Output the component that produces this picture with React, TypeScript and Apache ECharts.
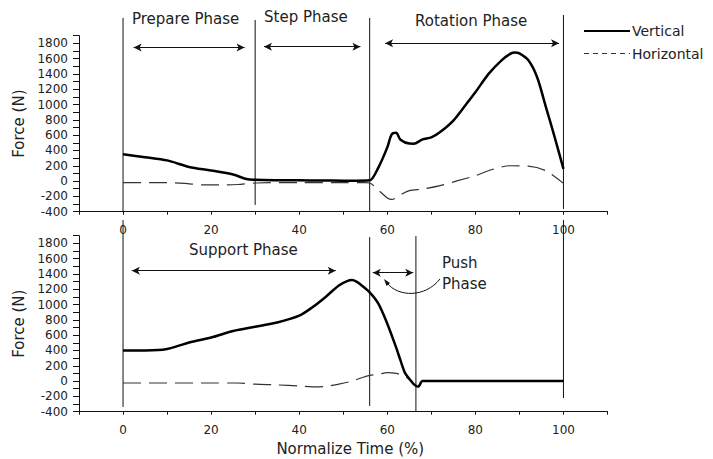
import React, { useEffect, useRef } from "react";
import * as echarts from "echarts";

// ---- data ----
const topVerticalX = [0, 5, 10, 15, 20, 25, 28, 30, 35, 40, 45, 50, 53, 56, 58, 60, 61, 62, 63, 65, 66, 68, 70, 72, 75, 78, 80, 83, 86, 88, 89, 90, 92, 94, 96, 98, 100];
const topVerticalY = [350, 312, 270, 185, 138, 85, 28, 18, 12, 10, 8, 5, 5, 10, 180, 440, 610, 630, 540, 490, 488, 545, 570, 640, 790, 1010, 1160, 1400, 1580, 1665, 1680, 1668, 1580, 1360, 970, 575, 160];

const topHorizontalX = [0, 10, 14, 18, 22, 26, 30, 40, 50, 55, 56, 58, 60, 61, 63, 65, 68, 72, 76, 80, 84, 88, 92, 96, 100];
const topHorizontalY = [-20, -20, -30, -50, -50, -45, -25, -20, -20, -20, -25, -120, -220, -240, -180, -125, -105, -60, 5, 70, 155, 200, 195, 135, -30];

const bottomVerticalX = [0, 5, 8, 10, 12, 15, 20, 25, 30, 35, 40, 43, 46, 49, 51, 52, 53, 54, 56, 58, 60, 62, 63, 64, 65, 66, 67, 68, 70, 100];
const bottomVerticalY = [400, 400, 405, 420, 450, 505, 570, 655, 710, 765, 855, 965, 1100, 1250, 1310, 1320, 1300, 1260, 1160, 1010, 750, 440, 270, 110, 30, -40, -75, 0, 0, 0];

const bottomHorizontalX = [0, 10, 20, 26, 30, 35, 40, 43, 46, 49, 52, 54, 56, 58, 60, 62, 64, 65.5];
const bottomHorizontalY = [-25, -25, -25, -25, -40, -50, -65, -75, -70, -40, 0, 40, 75, 90, 110, 100, 60, 0];

// phase boundaries (x value, top extent, bottom extent)
const topPhaseX = [0, 30, 56, 100];
const topPhaseTop = [2131, 2104, 2131, 2169];
const topPhaseBottom = [-400, -312, -400, -365];
const bottomPhaseX = [0, 56, 66.5, 100];
const bottomPhaseTop = [2104, 1882, 1895, 2104];
const bottomPhaseBottom = [-338, -325, -400, -221];

// phase arrows [x start, x end, y]
const topArrows = [
  [2.4, 27.6, 1743],
  [32.0, 53.9, 1756],
  [59.5, 99.0, 1800],
];
const bottomArrows = [
  [2.0, 48.3, 1442],
  [56.7, 65.9, 1416],
];

const FONT = "DejaVu Sans";
const TXT = "#222";

function pairs(xs: number[], ys: number[]) {
  return xs.map((x, i) => [x, ys[i]]);
}

function xAxisFor(gridIndex: number, withName: boolean) {
  return {
    type: "value",
    gridIndex,
    min: -10,
    max: 110,
    interval: 10,
    axisLine: { show: true, onZero: false, lineStyle: { color: "#111", width: 1 } },
    axisTick: { show: true, length: 3, inside: false, lineStyle: { color: "#111" } },
    splitLine: { show: false },
    axisLabel: {
      margin: 12,
      color: TXT,
      fontFamily: FONT,
      fontSize: 12,
      formatter: (v: number) => (v >= 0 && v <= 100 && v % 20 === 0 ? String(v) : ""),
    },
    ...(withName
      ? {
          name: "Normalize Time (%)",
          nameLocation: "middle",
          nameGap: 30,
          nameTextStyle: { color: TXT, fontFamily: FONT, fontSize: 15, padding: [0, 0, 0, 14] },
        }
      : {}),
  };
}

function yAxisFor(gridIndex: number) {
  return {
    type: "value",
    gridIndex,
    min: -400,
    max: 1900,
    interval: 100,
    name: "Force (N)",
    nameLocation: "middle",
    nameGap: 53,
    nameTextStyle: { color: TXT, fontFamily: FONT, fontSize: 15 },
    axisLine: { show: true, onZero: false, lineStyle: { color: "#111", width: 1 } },
    axisTick: { show: true, length: 6, lineStyle: { color: "#111" } },
    splitLine: { show: false },
    axisLabel: {
      margin: 11,
      color: TXT,
      fontFamily: FONT,
      fontSize: 12,
      formatter: (v: number) => (v % 200 === 0 && v <= 1800 ? String(v) : ""),
    },
  };
}

function phaseSeries(idx: number, xs: number[], tops: number[], bottoms: number[]) {
  return xs.map((x, i) => ({
    type: "line",
    xAxisIndex: idx,
    yAxisIndex: idx,
    data: [
      [x, tops[i]],
      [x, bottoms[i]],
    ],
    symbol: "none",
    clip: false,
    silent: true,
    lineStyle: { color: "#111", width: 1 },
    z: 1,
  }));
}

function arrowMarks(arrows: number[][]) {
  return {
    silent: true,
    symbol: ["arrow", "arrow"],
    symbolSize: [6, 8],
    label: { show: false },
    lineStyle: { color: "#111", width: 1, type: "solid" },
    emphasis: { disabled: true },
    data: arrows.map((a) => [{ coord: [a[0], a[2]] }, { coord: [a[1], a[2]] }]),
  };
}

export default function App() {
  const ref = useRef<HTMLDivElement>(null);
  useEffect(() => {
    if (!ref.current) return;
    const chart = echarts.init(ref.current, undefined, { renderer: "svg" });
    const textStyle = { fill: TXT, font: `15px "${FONT}"` };
    const dash = [18, 8];
    chart.setOption({
      animation: false,
      backgroundColor: "#fff",
      textStyle: { fontFamily: FONT },
      grid: [
        { left: 79, right: 105.5, top: 35.6, bottom: 247.3 },
        { left: 79, right: 105.5, top: 235.7, bottom: 47.3 },
      ],
      xAxis: [xAxisFor(0, false), xAxisFor(1, true)],
      yAxis: [yAxisFor(0), yAxisFor(1)],
      legend: {
        orient: "vertical",
        left: 578,
        top: 19,
        itemWidth: 46,
        itemHeight: 14,
        itemGap: 8.5,
        data: [
          { name: "Vertical" },
          { name: "Horizontal", lineStyle: { type: [5, 4], width: 1 } },
        ],
        itemStyle: { color: "transparent", borderColor: "transparent", borderWidth: 0, opacity: 0 },
        textStyle: { color: TXT, fontFamily: FONT, fontSize: 14, padding: [0, 0, 0, -3] },
      },
      series: [
        {
          name: "Vertical",
          type: "line",
          xAxisIndex: 0,
          yAxisIndex: 0,
          data: pairs(topVerticalX, topVerticalY),
          symbol: "none",
          smooth: 0.3,
          lineStyle: { color: "#000", width: 2.5 },
          itemStyle: { color: "#000" },
          z: 3,
          markLine: arrowMarks(topArrows),
        },
        {
          name: "Horizontal",
          type: "line",
          xAxisIndex: 0,
          yAxisIndex: 0,
          data: pairs(topHorizontalX, topHorizontalY),
          symbol: "none",
          smooth: 0.3,
          lineStyle: { color: "#333", width: 1.2, type: dash },
          itemStyle: { color: "#333" },
          z: 2,
        },
        {
          name: "Vertical",
          type: "line",
          xAxisIndex: 1,
          yAxisIndex: 1,
          data: pairs(bottomVerticalX, bottomVerticalY),
          symbol: "none",
          smooth: 0.3,
          lineStyle: { color: "#000", width: 2.5 },
          itemStyle: { color: "#000" },
          z: 3,
          markLine: arrowMarks(bottomArrows),
        },
        {
          name: "Horizontal",
          type: "line",
          xAxisIndex: 1,
          yAxisIndex: 1,
          data: pairs(bottomHorizontalX, bottomHorizontalY),
          symbol: "none",
          smooth: 0.3,
          lineStyle: { color: "#333", width: 1.2, type: dash },
          itemStyle: { color: "#333" },
          z: 2,
        },
        ...phaseSeries(0, topPhaseX, topPhaseTop, topPhaseBottom),
        ...phaseSeries(1, bottomPhaseX, bottomPhaseTop, bottomPhaseBottom),
      ],
      graphic: [
        { type: "text", left: 132, top: 11, style: { ...textStyle, text: "Prepare Phase" } },
        { type: "text", left: 264, top: 9, style: { ...textStyle, text: "Step Phase" } },
        { type: "text", left: 415, top: 13, style: { ...textStyle, text: "Rotation Phase" } },
        { type: "text", left: 189, top: 242, style: { ...textStyle, text: "Support Phase" } },
        { type: "text", left: 442, top: 255, style: { ...textStyle, text: "Push" } },
        { type: "text", left: 442, top: 276, style: { ...textStyle, text: "Phase" } },
        {
          type: "bezierCurve",
          shape: { x1: 440, y1: 279, x2: 387, y2: 283, cpx1: 425, cpy1: 298, cpx2: 398, cpy2: 297 },
          style: { stroke: "#111", lineWidth: 1, fill: "none" },
        },
        {
          type: "polygon",
          shape: { points: [[384, 279], [390, 283], [386.5, 286]] },
          style: { fill: "#111" },
        },
      ],
    });
    return () => chart.dispose();
  }, []);
  return (
    <div
      ref={ref}
      style={{ position: "absolute", left: 0, top: 0, width: 713, height: 459 }}
    />
  );
}
